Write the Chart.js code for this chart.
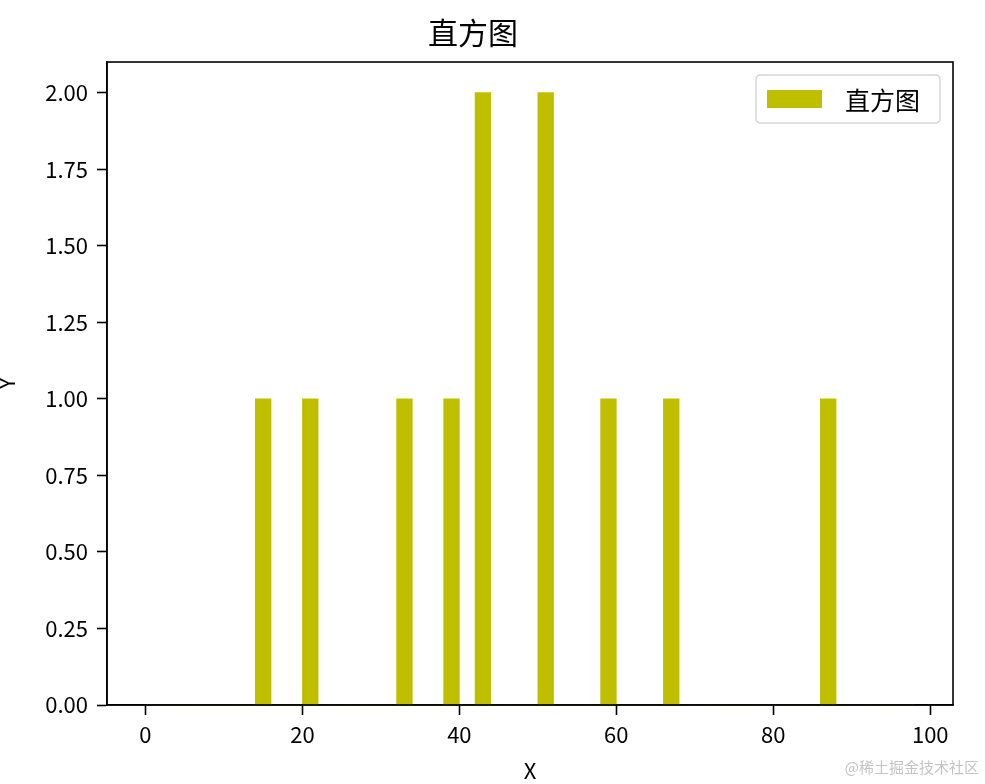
<!DOCTYPE html>
<html>
<head>
<meta charset="utf-8">
<script src="https://cdn.jsdelivr.net/npm/chart.js@4.4.1/dist/chart.umd.min.js"></script>
<style>
html,body{margin:0;padding:0;background:#fff;}
#wrap{width:985px;height:784px;position:relative;}
</style>
</head>
<body>
<div id="wrap"><canvas id="c" width="985" height="784"></canvas></div>
<script>
// Histogram bins (width 2, from 0 to 98): bin centres and counts
const binCenters = [1,3,5,7,9,11,13,15,17,19,21,23,25,27,29,31,33,35,37,39,41,43,45,47,49,51,53,55,57,59,61,63,65,67,69,71,73,75,77,79,81,83,85,87,89,91,93,95,97];
const counts =     [0,0,0,0,0,0,0,1,0,0,1,0,0,0,0,0,1,0,0,1,0,2,0,0,0,2,0,0,0,1,0,0,0,1,0,0,0,0,0,0,0,0,0,1,0,0,0,0,0];
const xTickValues = [0,20,40,60,80,100];
const yTickValues = [0,0.25,0.5,0.75,1.0,1.25,1.5,1.75,2.0];
const titleText = '直方图';
const seriesLabel = '直方图';
const xLabel = 'X';
const yLabel = 'Y';
const watermark = '@稀土掘金技术社区';

const FONT = "'Noto Sans CJK SC', 'Noto Sans', sans-serif";
const BAR_COLOR = '#bfbf00';
Chart.defaults.font.family = FONT;
Chart.defaults.color = '#000';

const framePlugin = {
  id: 'frame',
  afterDraw(chart) {
    const {ctx, chartArea: a} = chart;
    ctx.save();
    ctx.strokeStyle = '#000';
    ctx.lineWidth = 1.6;
    ctx.strokeRect(a.left, a.top, a.right - a.left, a.bottom - a.top);
    // legend inside plot (upper right)
    const bx1 = a.right - 13, by0 = a.top + 13;
    const bx0 = bx1 - 184, by1 = by0 + 48;
    const r = 5;
    ctx.beginPath();
    ctx.moveTo(bx0 + r, by0);
    ctx.lineTo(bx1 - r, by0); ctx.quadraticCurveTo(bx1, by0, bx1, by0 + r);
    ctx.lineTo(bx1, by1 - r); ctx.quadraticCurveTo(bx1, by1, bx1 - r, by1);
    ctx.lineTo(bx0 + r, by1); ctx.quadraticCurveTo(bx0, by1, bx0, by1 - r);
    ctx.lineTo(bx0, by0 + r); ctx.quadraticCurveTo(bx0, by0, bx0 + r, by0);
    ctx.closePath();
    ctx.fillStyle = 'rgba(255,255,255,0.8)';
    ctx.fill();
    ctx.strokeStyle = '#d6d6d6';
    ctx.lineWidth = 1.5;
    ctx.stroke();
    ctx.fillStyle = BAR_COLOR;
    ctx.fillRect(bx0 + 11, by0 + 15, 55, 18);
    ctx.fillStyle = '#000';
    ctx.font = '25px ' + FONT;
    ctx.textBaseline = 'middle';
    ctx.textAlign = 'left';
    ctx.fillText(seriesLabel, bx0 + 89, by0 + 25);
    // watermark
    ctx.fillStyle = '#c4c4c4';
    ctx.font = '15px ' + FONT;
    ctx.textAlign = 'right';
    ctx.fillText(watermark, 979, 767);
    ctx.restore();
  }
};

new Chart(document.getElementById('c'), {
  type: 'bar',
  data: {
    datasets: [{
      label: seriesLabel,
      data: binCenters.map((x, i) => ({x: x, y: counts[i]})),
      backgroundColor: BAR_COLOR,
      borderWidth: 0,
      barPercentage: 1.0,
      categoryPercentage: 1.0
    }]
  },
  plugins: [framePlugin],
  options: {
    responsive: false,
    animation: false,
    devicePixelRatio: 1,
    layout: {padding: {left: -7, right: 32, top: 0, bottom: 0}},
    plugins: {
      legend: {display: false},
      tooltip: {enabled: false},
      title: {
        display: true,
        text: titleText,
        font: {size: 30, weight: 'normal'},
        color: '#000',
        padding: {top: 15, bottom: 11}
      }
    },
    scales: {
      x: {
        type: 'linear',
        min: -4.9,
        max: 102.9,
        offset: false,
        afterBuildTicks(s) { s.ticks = xTickValues.map(v => ({value: v})); },
        afterFit(s) { s.height = 79; },
        ticks: {font: {size: 22}, padding: 6, maxRotation: 0, autoSkip: false, color: '#000'},
        grid: {offset: false, drawOnChartArea: false, drawTicks: true, tickLength: 10, tickWidth: 1.6, tickColor: '#000'},
        border: {display: true, color: '#000', width: 1.6},
        title: {display: true, text: xLabel, font: {size: 22}, padding: 0, color: '#000'}
      },
      y: {
        type: 'linear',
        min: 0,
        max: 2.1,
        afterBuildTicks(s) { s.ticks = yTickValues.map(v => ({value: v})); },
        afterFit(s) { s.width = 114; },
        ticks: {font: {size: 22}, padding: 9, color: '#000', callback: v => Number(v).toFixed(2)},
        grid: {drawOnChartArea: false, drawTicks: true, tickLength: 10, tickWidth: 1.6, tickColor: '#000'},
        border: {display: true, color: '#000', width: 1.6},
        title: {display: true, text: yLabel, font: {size: 22}, padding: 0, color: '#000'}
      }
    }
  }
});
</script>
</body>
</html>
